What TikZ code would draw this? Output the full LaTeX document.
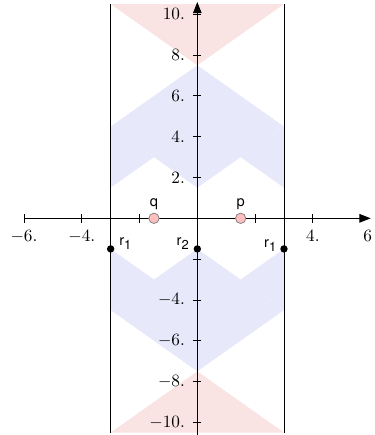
\documentclass[tikz,border=0pt]{standalone}
\usepackage{fontspec}
\newfontfamily\hv{TeX Gyre Heros}
\usetikzlibrary{arrows.meta}
\definecolor{conered}{rgb}{0.98,0.89,0.89}
\definecolor{coneblue}{rgb}{0.91,0.91,0.985}
\newcommand\subfnt{\hv\fontsize{7.5}{9}\selectfont}
\begin{document}
\begin{tikzpicture}[x=0.589cm,y=0.416cm,
  axisline/.style={line width=0.55pt,-{Triangle[length=6.5pt,width=5pt]}},
  tickline/.style={line width=0.5pt},
  num/.style={inner sep=0pt,font=\fontsize{10}{12}\selectfont},
  dot/.style={circle,fill=black,inner sep=0pt,minimum size=4.3pt},
  ev/.style={circle,fill=pink,draw=gray,line width=0.45pt,inner sep=0pt,minimum size=6pt},
  lbl/.style={inner sep=0pt,font=\hv\fontsize{8.5}{10}\selectfont},
  blu/.style={fill=coneblue},
  rd/.style={fill=conered},
  wall/.style={line width=0.55pt}]
\useasboundingbox (-6.83,-10.62) rectangle (6.12,10.70);
% red regions
\fill[rd] (-3,10.5) -- (3,10.5) -- (0,7.5) -- cycle;
\fill[rd] (-3,-10.5) -- (3,-10.5) -- (0,-7.5) -- cycle;
% blue regions (upper)
\fill[blu] (0,7.5) -- (-3,4.5) -- (0,1.5) -- (3,4.5) -- cycle;
\fill[blu] (-3,1.5) -- (-1.5,3) -- (-3,4.5) -- cycle;
\fill[blu] (3,1.5) -- (1.5,3) -- (3,4.5) -- cycle;
% blue regions (lower)
\fill[blu] (0,-7.5) -- (-3,-4.5) -- (0,-1.5) -- (3,-4.5) -- cycle;
\fill[blu] (-3,-1.5) -- (-1.5,-3) -- (-3,-4.5) -- cycle;
\fill[blu] (3,-1.5) -- (1.5,-3) -- (3,-4.5) -- cycle;
% walls
\draw[wall] (-3,-10.5) -- (-3,10.5);
\draw[wall] (3,-10.5) -- (3,10.5);
% axes
\draw[axisline] (-6,0) -- (6,0);
\draw[axisline] (0,-10.6) -- (0,10.6);
% ticks
\foreach \x in {-6,-4,-2,2,4}
  \draw[tickline] (\x,0) ++(0,-2.6pt) -- ++(0,5.2pt);
\foreach \y in {-10,-8,-6,-4,-2,2,4,6,8,10}
  \draw[tickline] (0,\y) ++(-2.4pt,0) -- ++(4.8pt,0);
% x labels
\foreach \x/\t in {-6/{$-6.$},-4/{$-4.$},4/{$4.$}}
  \node[num,anchor=north] at ([yshift=-6.8pt]\x,0) {\t};
\node[num,anchor=north] at ([yshift=-6.8pt]5.9,0) {$6$};
% y labels
\foreach \y/\t in {10/{$10.$},8/{$8.$},6/{$6.$},4/{$4.$},2/{$2.$},-4/{$-4.$},-6/{$-6.$},-8/{$-8.$},-10/{$-10.$}}
  \node[num,anchor=east] at ([xshift=-7pt]0,\y) {\t};
% events
\node[ev] (q) at (-1.5,0) {};
\node[ev] (p) at (1.5,0) {};
\node[lbl] (ql) at ([yshift=8pt]q.center) {q};
\node[lbl] (pl) at ([yshift=8pt]p.center) {p};
% reflection points
\node[dot] (r1a) at (-3,-1.5) {};
\node[dot] (r2) at (0,-1.5) {};
\node[dot] (r1b) at (3,-1.5) {};
\node[lbl] (r1al) at ([xshift=8.5pt,yshift=3pt]r1a.center) {r\raisebox{-0.55ex}{\subfnt 1}};
\node[lbl] (r2l) at ([xshift=-8.5pt,yshift=3pt]r2.center) {r\raisebox{-0.55ex}{\subfnt 2}};
\node[lbl] (r1bl) at ([xshift=-8pt,yshift=2pt]r1b.center) {r\raisebox{-0.55ex}{\subfnt 1}};
\end{tikzpicture}
\end{document}
